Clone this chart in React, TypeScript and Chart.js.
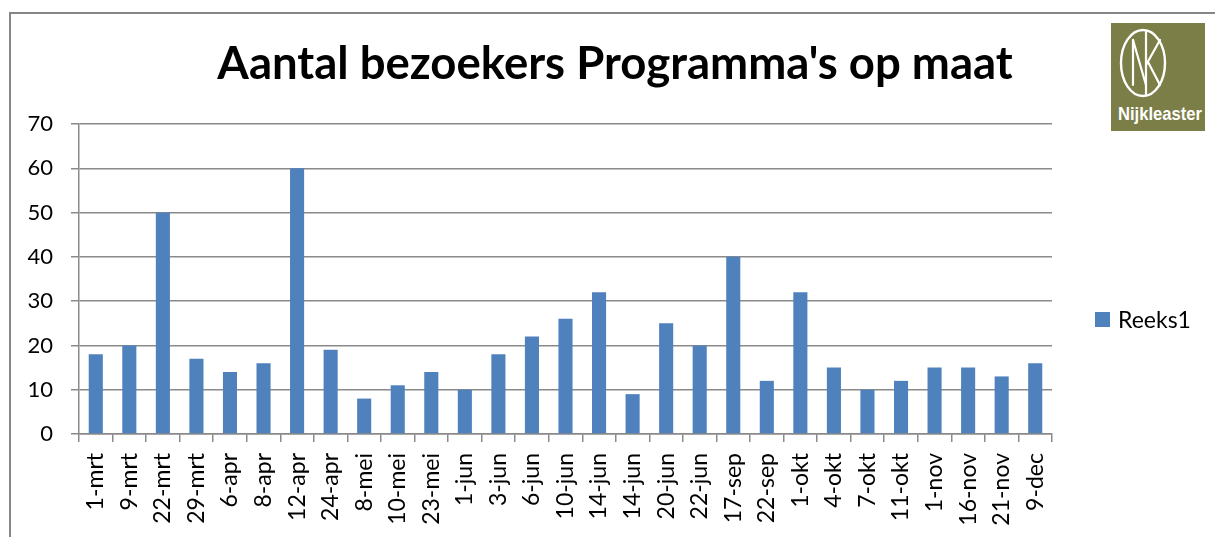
import React, { useEffect, useRef } from "react";
import { Chart, registerables } from "chart.js";

Chart.register(...registerables);

const chartTitle = "Aantal bezoekers Programma's op maat";
const seriesName = "Reeks1";
const logoText = "Nijkleaster";

const categories = [
  "1-mrt", "9-mrt", "22-mrt", "29-mrt", "6-apr", "8-apr", "12-apr", "24-apr",
  "8-mei", "10-mei", "23-mei", "1-jun", "3-jun", "6-jun", "10-jun", "14-jun",
  "14-jun", "20-jun", "22-jun", "17-sep", "22-sep", "1-okt", "4-okt", "7-okt",
  "11-okt", "1-nov", "16-nov", "21-nov", "9-dec",
];

const visitors = [
  18, 20, 50, 17, 14, 16, 60, 19,
  8, 11, 14, 10, 18, 22, 26, 32,
  9, 25, 20, 40, 12, 32, 15, 10,
  12, 15, 15, 13, 16,
];

const yMin = 0;
const yMax = 70;
const yStep = 10;

const BAR_COLOR = "#4F81BD";
const GRID_COLOR = "#8a8a8a";
const FONT = "Lato, 'Open Sans', sans-serif";

export default function App() {
  const ref = useRef<HTMLCanvasElement>(null);

  useEffect(() => {
    let chart: Chart | null = null;
    let cancelled = false;
    const make = () => {
      if (cancelled || !ref.current) return;
      chart = new Chart(ref.current, {
        type: "bar",
        data: {
          labels: categories,
          datasets: [
            {
              label: seriesName,
              data: visitors,
              backgroundColor: BAR_COLOR,
              borderWidth: 0,
              categoryPercentage: 1,
              barPercentage: 0.42,
            },
          ],
        },
        options: {
          responsive: false,
          animation: false,
          devicePixelRatio: 1,
          layout: { padding: { left: 0, top: 124, right: 163, bottom: 0 } },
          plugins: {
            legend: { display: false },
            title: { display: false },
            tooltip: { enabled: false },
          },
          scales: {
            x: {
              offset: true,
              grid: {
                display: true,
                offset: true,
                drawOnChartArea: false,
                drawTicks: true,
                tickLength: 8,
                color: GRID_COLOR,
                lineWidth: 1.5,
              },
              border: { display: true, color: GRID_COLOR, width: 1.5 },
              ticks: {
                autoSkip: false,
                minRotation: 90,
                maxRotation: 90,
                padding: 11,
                color: "#000",
                font: { family: FONT, size: 23 },
              },
              afterFit: (s: any) => {
                s.height = 103;
              },
            },
            y: {
              min: yMin,
              max: yMax,
              grid: {
                color: GRID_COLOR,
                lineWidth: 1.5,
                tickLength: 8,
              },
              border: { display: true, color: GRID_COLOR, width: 1.5 },
              ticks: {
                stepSize: yStep,
                padding: 18,
                color: "#000",
                font: { family: FONT, size: 22 },
              },
              afterFit: (s: any) => {
                s.width = 79;
              },
            },
          },
        },
      });
    };
    const fontsReady = (document as any).fonts
      ? Promise.all([
          (document as any).fonts.load("22px Lato"),
          (document as any).fonts.load("bold 45px Lato"),
        ]).catch(() => null)
      : Promise.resolve(null);
    fontsReady.then(make);
    return () => {
      cancelled = true;
      if (chart) chart.destroy();
    };
  }, []);

  return (
    <div
      style={{
        position: "fixed",
        left: 0,
        top: 0,
        width: 1215,
        height: 537,
        background: "#fff",
        overflow: "hidden",
      }}
    >
      <div
        style={{
          position: "absolute",
          left: 9,
          top: 12,
          width: 1215,
          height: 537,
          borderTop: "2px solid #868686",
          borderLeft: "2px solid #868686",
        }}
      />
      <canvas
        ref={ref}
        width={1215}
        height={537}
        style={{ position: "absolute", left: 0, top: 0, width: 1215, height: 537 }}
      />
      <div
        style={{
          position: "absolute",
          left: 115,
          top: 34,
          width: 1000,
          textAlign: "center",
          fontFamily: FONT,
          fontWeight: 700,
          fontSize: 45.5,
          lineHeight: "56px",
          color: "#000",
          whiteSpace: "nowrap",
        }}
      >
        {chartTitle}
      </div>
      <div
        style={{
          position: "absolute",
          left: 1095,
          top: 304,
          display: "flex",
          alignItems: "center",
          fontFamily: FONT,
          fontSize: 23,
          color: "#000",
          lineHeight: "30px",
        }}
      >
        <span
          style={{
            display: "inline-block",
            width: 15,
            height: 15,
            background: BAR_COLOR,
            marginRight: 8,
          }}
        />
        <span>{seriesName}</span>
      </div>
      <svg
        width={94}
        height={108}
        style={{ position: "absolute", left: 1111, top: 23 }}
      >
        <rect x={0} y={0} width={94} height={108} fill="#7B7E46" />
        <ellipse cx={32} cy={40} rx={22} ry={33} fill="none" stroke="#fff" strokeWidth={2.4} />
        <g stroke="#fff" strokeWidth={2.2} fill="none" strokeLinecap="round">
          <line x1={22} y1={17} x2={22} y2={62} />
          <line x1={22} y1={17} x2={35} y2={62} />
          <line x1={35} y1={9} x2={35} y2={71} />
          <line x1={35} y1={42} x2={49} y2={17} />
          <line x1={37} y1={39} x2={49} y2={62} />
        </g>
        <text
          x={7}
          y={97}
          fill="#fff"
          fontFamily="'Liberation Sans Narrow', 'Liberation Sans', Arial, sans-serif"
          fontWeight={700}
          fontSize={19}
          textLength={84}
          lengthAdjust="spacingAndGlyphs"
        >
          {logoText}
        </text>
      </svg>
    </div>
  );
}
